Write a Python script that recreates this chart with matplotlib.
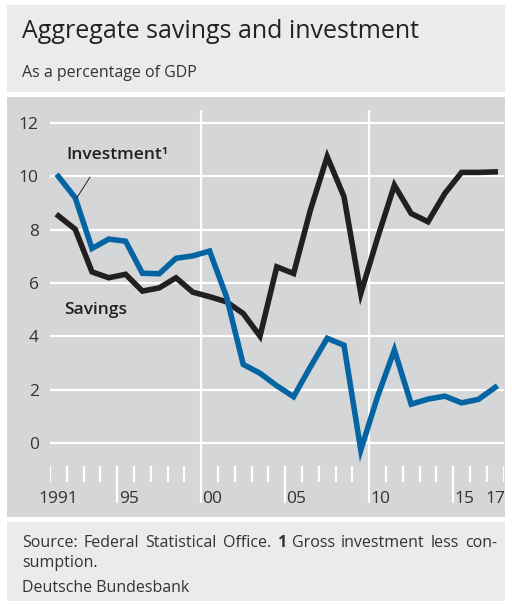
import numpy as np
import matplotlib
matplotlib.use('Agg')
import matplotlib.pyplot as plt
from matplotlib.patches import Rectangle

plt.rcParams['font.family'] = ['Open Sans', 'DejaVu Sans']

# net investment and savings, % of GDP
years = list(range(1991, 2018))
investment = [10.0, 9.2, 7.3, 7.65, 7.57, 6.37, 6.35, 6.93, 7.02, 7.2,
              5.5, 2.95, 2.62, 2.15, 1.74, 2.86, 3.93, 3.67, -0.26, 1.75,
              3.49, 1.46, 1.65, 1.76, 1.51, 1.64, 2.09]
savings = [8.52, 8.02, 6.42, 6.2, 6.33, 5.7, 5.82, 6.2, 5.66, 5.49,
           5.3, 4.86, 4.01, 6.61, 6.36, 8.74, 10.74, 9.24, 5.61, 7.7,
           9.67, 8.61, 8.3, 9.36, 10.15, 10.15, 10.17]

yticks = [0, 2, 4, 6, 8, 10, 12]
label_years = [1991, 1995, 2000, 2005, 2010, 2015, 2017]
label_text = ['1991', '95', '00', '05', '10', '15', '17']

W, H = 512, 606
BLUE = '#0565a3'
BLACK = '#231f20'
TXT = '#333333'
LIGHT = '#ebebed'
DARK = '#d5d6d8'

fig = plt.figure(figsize=(W / 100, H / 100), dpi=100)
fig.patch.set_facecolor('white')


def px_rect(x0, y0, x1, y1, color):
    fig.patches.append(Rectangle((x0 / W, 1 - y1 / H), (x1 - x0) / W, (y1 - y0) / H,
                                 transform=fig.transFigure, facecolor=color,
                                 edgecolor='none', zorder=-5))


px_rect(7, 5, 505, 92, LIGHT)
px_rect(7, 97, 505, 517, DARK)
px_rect(7, 522, 505, 601, LIGHT)

fig.text(22 / W, 1 - 31 / H, 'Aggregate savings and investment', fontsize=18,
         color='#222222', va='center', ha='left')
fig.text(22 / W, 1 - 73 / H, 'As a percentage of GDP', fontsize=11.5,
         color=TXT, va='center', ha='left')

# plot area: 1991..2018 year boundaries, y from -2.32 to 12.49
ax = fig.add_axes([50 / W, 1 - 505 / H, (503.6 - 50) / W, (505 - 110) / H])
ax.set_zorder(2)
ax.set_facecolor('none')
ax.patch.set_visible(False)
ax.set_xlim(1991, 2018)
ax.set_ylim(-2.32, 12.49)
for s in ax.spines.values():
    s.set_visible(False)

ax.hlines(yticks, 1991, 2018, color='white', lw=1.6, zorder=1)
ax.vlines([2000, 2010], -2.25, 12.49, color='white', lw=1.6, zorder=1)
bounds = np.arange(1991, 2019)
short = [b for b in bounds if b % 5 != 0]
ax.vlines(short, -1.46, -0.86, color='white', lw=1.6, zorder=1)
ax.vlines([1995, 2005, 2015], -2.25, -0.86, color='white', lw=1.6, zorder=1)

x = np.array(years) + 0.5
ax.plot(x, savings, color=BLACK, lw=4.0, solid_joinstyle='miter', zorder=3)
ax.plot(x, investment, color=BLUE, lw=4.0, solid_joinstyle='miter', zorder=4)

ax.set_yticks(yticks)
ax.set_yticklabels([str(v) for v in yticks], fontsize=12.5, color=TXT)
ax.tick_params(axis='y', length=0, pad=8)
ax.set_xticks([])

for yr, lab in zip(label_years, label_text):
    off = 0.68 if yr % 5 == 0 else 0.5
    ax.text(yr + off, -2.1, lab, fontsize=12.5, color=TXT, ha='center', va='center')

ax.text(1991.95, 10.8, 'Investment\u00b9', fontsize=12.5, fontweight='semibold',
        color=BLACK, ha='left', va='center')
ax.plot([1993.38, 1992.6], [9.97, 9.2], color=BLACK, lw=0.7, zorder=5)
ax.text(1991.83, 4.98, 'Savings', fontsize=12.5, fontweight='semibold',
        color=BLACK, ha='left', va='center')

# footnote, first line justified across the panel
fig.canvas.draw()
renderer = fig.canvas.get_renderer()
words = [('Source:', 'normal'), ('Federal', 'normal'), ('Statistical', 'normal'),
         ('Office.', 'normal'), ('1', 'bold'), ('Gross', 'normal'),
         ('investment', 'normal'), ('less', 'normal'), ('con-', 'normal')]
x0, x1 = 22, 497
y_line = 1 - 543 / H
items = []
for w, wt in words:
    t = fig.text(0, y_line, w, fontsize=11.5, fontweight=wt, color=TXT, va='center', ha='left')
    items.append((t, t.get_window_extent(renderer).width))
gap = (x1 - x0 - sum(wd for _, wd in items)) / (len(items) - 1)
pos = x0
for t, wd in items:
    t.set_x(pos / W)
    pos += wd + gap

fig.text(22 / W, 1 - 563 / H, 'sumption.', fontsize=11.5, color=TXT, va='center', ha='left')
fig.text(22 / W, 1 - 588 / H, 'Deutsche Bundesbank', fontsize=11.5, color=TXT,
         va='center', ha='left')

fig.savefig('out.png', dpi=100, facecolor='white')
